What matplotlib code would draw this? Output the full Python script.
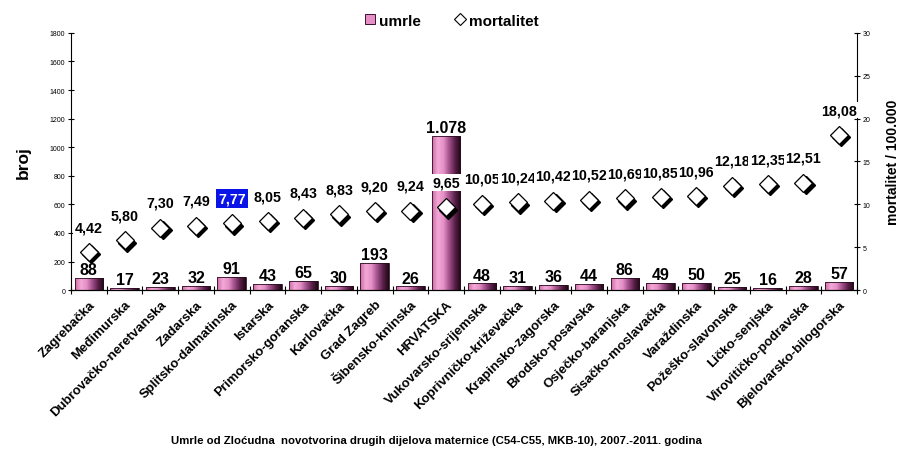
import matplotlib
matplotlib.use("Agg")
import matplotlib.pyplot as plt
import numpy as np
from matplotlib.colors import LinearSegmentedColormap
from matplotlib.lines import Line2D
import matplotlib.transforms as mtransforms

plt.rcParams['font.family'] = ['Liberation Sans', 'DejaVu Sans']

categories = ["Zagrebačka", "Međimurska", "Dubrovačko-neretvanska", "Zadarska",
              "Splitsko-dalmatinska", "Istarska", "Primorsko-goranska", "Karlovačka",
              "Grad Zagreb", "Šibensko-kninska", "HRVATSKA", "Vukovarsko-srijemska",
              "Koprivničko-križevačka", "Krapinsko-zagorska", "Brodsko-posavska",
              "Osječko-baranjska", "Sisačko-moslavačka", "Varaždinska", "Požeško-slavonska",
              "Ličko-senjska", "Virovitičko-podravska", "Bjelovarsko-bilogorska"]
umrle = [88, 17, 23, 32, 91, 43, 65, 30, 193, 26, 1078, 48, 31, 36, 44, 86, 49, 50, 25, 16, 28, 57]
umrle_labels = ["88", "17", "23", "32", "91", "43", "65", "30", "193", "26", "1.078", "48", "31",
                "36", "44", "86", "49", "50", "25", "16", "28", "57"]
mortalitet = [4.42, 5.80, 7.30, 7.49, 7.77, 8.05, 8.43, 8.83, 9.20, 9.24, 9.65, 10.05, 10.24,
              10.42, 10.52, 10.69, 10.85, 10.96, 12.18, 12.35, 12.51, 18.08]
left_ticks = [0, 200, 400, 600, 800, 1000, 1200, 1400, 1600, 1800]
right_ticks = [0, 5, 10, 15, 20, 25, 30]
highlight_idx = 4

fig = plt.figure(figsize=(9.01, 4.52), dpi=100)
ax = fig.add_axes([0.0788, 0.356, 0.8724, 0.569])
x = np.arange(len(categories))

cmap = LinearSegmentedColormap.from_list("barg", ["#cf6aa6", "#f3a9d7", "#e58fc6", "#a0508a", "#5a1f48", "#1e0816"])
grad = np.linspace(0, 1, 64).reshape(1, -1)

bars = ax.bar(x, umrle, width=0.8, color='none', edgecolor='#2a0c20', linewidth=0.6, zorder=3)
for b in bars:
    im = ax.imshow(grad, extent=[b.get_x(), b.get_x() + b.get_width(), 0, b.get_height()],
                   aspect='auto', cmap=cmap, zorder=2)
    im.set_clip_path(b)

for xi, v, lab in zip(x, umrle, umrle_labels):
    ax.annotate(lab, (xi, v), xytext=(0, 0.5), textcoords='offset points', ha='center', va='bottom',
                fontsize=11.5, fontweight='bold', color='black', zorder=5)

ax.set_xlim(-0.5, len(categories) - 0.5)
ax.set_ylim(0, 1800)
ax.set_yticks(left_ticks)
ax.set_yticklabels([str(t) for t in left_ticks], fontsize=5)
ax.set_xticks(np.arange(len(categories) + 1) - 0.5)
ax.set_xticklabels([])
ax.set_xticks(x, minor=True)
ax.set_xticklabels(categories, minor=True, rotation=45, ha='right', va='top',
                   rotation_mode='anchor', fontsize=9.5, fontweight='bold')
ax.tick_params(axis='x', which='minor', length=0, pad=6)
ax.tick_params(axis='x', which='major', direction='inout', length=6, width=0.8)
ax.tick_params(axis='y', direction='inout', length=4, width=0.8, pad=2)
ax.spines['top'].set_visible(False)
ax.spines['right'].set_visible(False)
ax.set_ylabel("broj", fontsize=12.5, fontweight='bold', labelpad=14)

ax2 = ax.twinx()
ax2.set_ylim(0, 30)
ax2.set_yticks(right_ticks)
ax2.set_yticklabels([str(t) for t in right_ticks], fontsize=5)
ax2.tick_params(axis='y', direction='inout', length=4, width=0.8, pad=2)
ax2.spines['top'].set_visible(False)
ax2.spines['left'].set_visible(False)
ax2.set_ylabel("mortalitet / 100.000", fontsize=10, fontweight='bold', labelpad=11)

shadow_tr = mtransforms.offset_copy(ax2.transData, fig=fig, x=1.6, y=-1.6, units='points')
ax2.plot(x, mortalitet, linestyle='none', marker='D', markersize=9.5, color='black',
         transform=shadow_tr, zorder=3)
ax2.plot(x, mortalitet, linestyle='none', marker='D', markersize=9.5, markerfacecolor='white',
         markeredgecolor='black', markeredgewidth=0.9, zorder=4)

for i, (xi, v) in enumerate(zip(x, mortalitet)):
    txt = f"{v:.2f}".replace('.', ',')
    if i == highlight_idx:
        ax2.annotate(txt, (xi, v), xytext=(0, 13), textcoords='offset points', ha='center',
                     va='bottom', fontsize=10.3, fontweight='bold', color='white', zorder=10 + i,
                     bbox=dict(boxstyle='square,pad=0.15', fc='#0a14e6', ec='none'))
    else:
        ax2.annotate(txt, (xi, v), xytext=(0, 13), textcoords='offset points', ha='center',
                     va='bottom', fontsize=10.3, fontweight='bold', color='black', zorder=10 + i,
                     bbox=dict(boxstyle='square,pad=0.1', fc='white', ec='none'))

handles = [Line2D([], [], linestyle='none', marker='s', markersize=7.5, markerfacecolor='#e58fc6',
                  markeredgecolor='#3a1030', markeredgewidth=0.7),
           Line2D([], [], linestyle='none', marker='D', markersize=6, markerfacecolor='white',
                  markeredgecolor='black', markeredgewidth=0.8)]
fig.legend(handles, ["umrle", "mortalitet"], loc='center', bbox_to_anchor=(0.5, 0.952), ncol=2,
           frameon=False, prop={'weight': 'bold', 'size': 11}, handletextpad=0.1,
           columnspacing=2.0, handlelength=1.0)

fig.text(0.484, 0.025, "Umrle od Zloćudna  novotvorina drugih dijelova maternice (C54-C55, MKB-10), 2007.-2011. godina",
         ha='center', va='center', fontsize=8.2, fontweight='bold')

fig.savefig("out.png", dpi=100)
